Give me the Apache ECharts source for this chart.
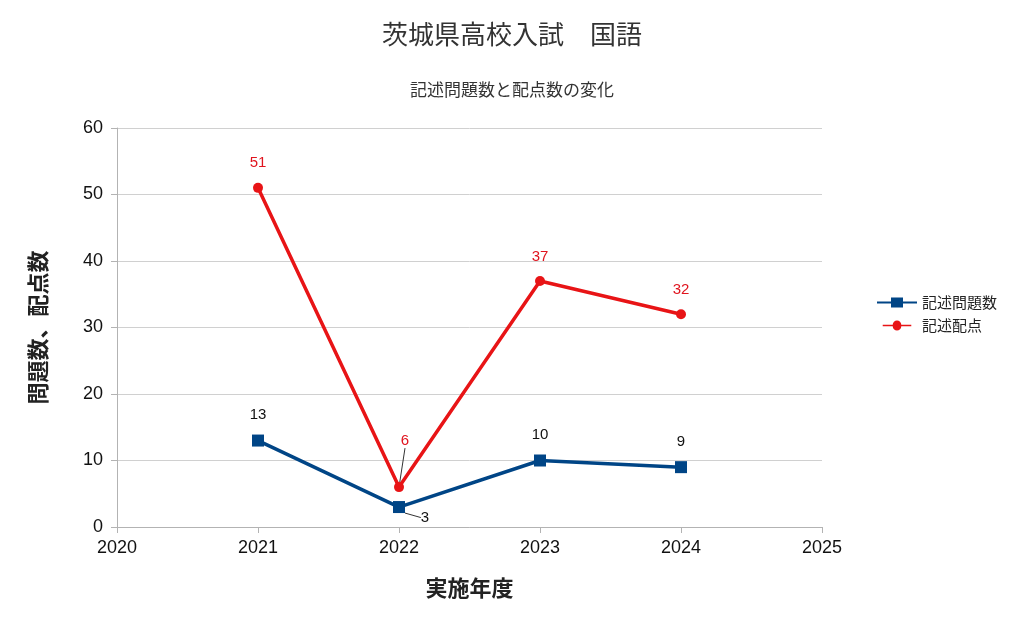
<!DOCTYPE html>
<html><head><meta charset="utf-8">
<script src="https://cdn.jsdelivr.net/npm/echarts@6/dist/echarts.min.js"></script>
<style>html,body{margin:0;background:#fff}#c{width:1024px;height:627px}</style></head>
<body><div id="c"></div>
<script>
const years=[2021,2022,2023,2024];
const questions=[13,3,10,9];
const points=[51,6,37,32];
const F='"Noto Sans CJK JP","Liberation Sans",sans-serif';
const N='"Liberation Sans",sans-serif';
function mk(vals){return years.map((y,i)=>({value:[y,vals[i]],labelLine:{show:i===1,lineStyle:{color:'#333',width:1}}}));}
const chart=echarts.init(document.getElementById('c'));
chart.setOption({
  backgroundColor:'#fff',
  title:[{text:'茨城県高校入試　国語',left:'center',top:16,textStyle:{fontFamily:F,fontSize:26,fontWeight:'normal',color:'#333'}},
         {text:'記述問題数と配点数の変化',left:'center',top:76,textStyle:{fontFamily:F,fontSize:17,fontWeight:'normal',color:'#333'}}],
  grid:{left:117,right:202,top:128,bottom:100},
  legend:{orient:'vertical',left:872,top:290,itemWidth:40,itemHeight:10,itemGap:8,
    textStyle:{fontFamily:F,fontSize:15,color:'#222'},
    data:[{name:'記述問題数',icon:'path://M0,4L14,4L14,0L26,0L26,4L40,4L40,6L26,6L26,10L14,10L14,6L0,6Z'},
          {name:'記述配点',icon:'path://M0,4L14,4A6,6,0,0,1,26,4L40,4L40,6L26,6A6,6,0,0,1,14,6L0,6Z'}]},
  xAxis:{type:'value',min:2020,max:2025,interval:1,name:'実施年度',nameLocation:'middle',nameGap:50,
    nameTextStyle:{fontFamily:F,fontSize:22,fontWeight:'bold',color:'#222'},
    axisLine:{lineStyle:{color:'#b3b3b3'}},axisTick:{show:true,length:6,lineStyle:{color:'#b3b3b3'}},
    axisLabel:{fontFamily:N,fontSize:18,color:'#111',margin:12,formatter:v=>String(v)},splitLine:{show:false}},
  yAxis:{type:'value',min:0,max:60,interval:10,name:'問題数、配点数',nameLocation:'middle',nameGap:68,
    nameRotate:90,nameTextStyle:{fontFamily:F,fontSize:22,fontWeight:'bold',color:'#222'},
    axisLine:{show:true,lineStyle:{color:'#b3b3b3'}},axisTick:{show:true,length:6,lineStyle:{color:'#b3b3b3'}},
    axisLabel:{fontFamily:N,fontSize:18,color:'#111',margin:14},splitLine:{lineStyle:{color:'#d0d0d0'}}},
  series:[
    {name:'記述問題数',type:'line',data:mk(questions),color:'#004586',
     lineStyle:{width:3.5},symbol:'rect',symbolSize:12,
     label:{show:true,position:'top',distance:12,fontFamily:N,fontSize:15,color:'#111'},
     labelLayout:p=>p.dataIndex===1?{dx:26,dy:36}:{}},
    {name:'記述配点',type:'line',data:mk(points),color:'#e81416',
     lineStyle:{width:3.5},symbol:'circle',symbolSize:10,
     label:{show:true,position:'top',distance:12,fontFamily:N,fontSize:15,color:'#e0141e'},
     labelLayout:p=>p.dataIndex===1?{dx:6,dy:-22}:{}}
  ]
});
</script></body></html>
